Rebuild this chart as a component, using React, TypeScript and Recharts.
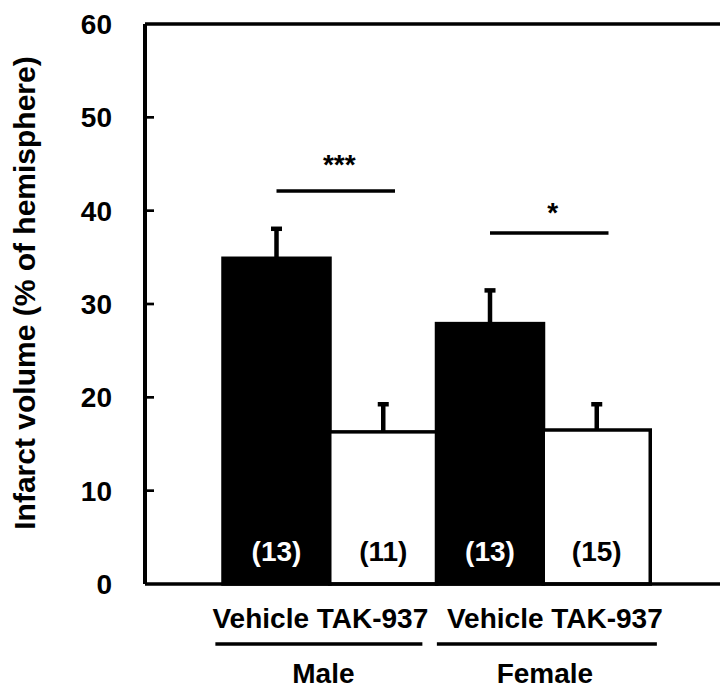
import React from 'react';
import { BarChart, Bar, XAxis, YAxis, ReferenceLine } from 'recharts';

// ---- data ----
const categories = ['Male Vehicle', 'Male TAK-937', 'Female Vehicle', 'Female TAK-937'];
const infarctVolume = [34.9, 16.3, 27.9, 16.5];
const semError = [3.4, 3.2, 3.8, 3.0];
const sampleSizes = ['(13)', '(11)', '(13)', '(15)'];
const isVehicle = [true, false, true, false];
const groupTickLabels = ['Vehicle TAK-937', '', 'Vehicle TAK-937', ''];
const groupNames = ['Male', '', 'Female', ''];
const sigLineLevel = [42.1, null, 37.6, null];
const sigStarLevel = [43.9, null, 38.8, null];
const sigStars = ['***', '', '*', ''];
const yTicks = [0, 10, 20, 30, 40, 50, 60];
const yMax = 60;
const yLabel = 'Infarct volume (% of hemisphere)';

const data = categories.map((c, i) => ({
  key: c,
  value: infarctVolume[i],
  err: semError[i],
  n: sampleSizes[i],
  vehicle: isVehicle[i],
  sigLine: sigLineLevel[i],
  sigStar: sigStarLevel[i],
  stars: sigStars[i],
}));

// ---- styles ----
const FONT = '"Liberation Sans", Arial, Helvetica, sans-serif';
const FS = 28;
const groupLayout: Record<number, { label: number; from: number; to: number; name: number }> = {
  0: { label: 44, from: -61, to: 146, name: 47 },
  2: { label: 65, from: -53, to: 167, name: 55 },
};

const BarShape = (props: any) => {
  const { x, y, width, height, payload } = props;
  const bottom = y + height;
  const pxPerUnit = height / payload.value;
  const toY = (v: number) => bottom - v * pxPerUnit;
  const cx = x + width / 2;
  const errTop = toY(payload.value + payload.err);
  const black = payload.vehicle;
  return (
    <g>
      <rect
        x={x}
        y={y}
        width={width}
        height={height}
        fill={black ? '#000' : '#fff'}
        stroke="#000"
        strokeWidth={3.5}
      />
      <line x1={cx} x2={cx} y1={y} y2={errTop + 2} stroke="#000" strokeWidth={4.5} />
      <rect x={cx - 5.5} y={errTop} width={11} height={4.5} fill="#000" />
      <text
        x={cx}
        y={bottom - 23}
        textAnchor="middle"
        fill={black ? '#fff' : '#000'}
        fontSize={FS}
        fontWeight="bold"
        fontFamily={FONT}
      >
        {payload.n}
      </text>
      {payload.sigLine != null && (
        <g>
          <line
            x1={cx}
            x2={cx + width + 11.5}
            y1={toY(payload.sigLine)}
            y2={toY(payload.sigLine)}
            stroke="#000"
            strokeWidth={3.5}
          />
          <text
            x={cx + (width + 11.5) / 2 + 3.5}
            y={toY(payload.sigStar)}
            textAnchor="middle"
            fontSize={FS}
            fontWeight="bold"
            fontFamily={FONT}
            fill="#000"
          >
            {payload.stars}
          </text>
        </g>
      )}
    </g>
  );
};

const XTick = (props: any) => {
  const { x, y, index } = props;
  const layout = groupLayout[index];
  if (!layout) return null;
  return (
    <g fontFamily={FONT} fontWeight="bold" fontSize={FS} fill="#000">
      <text x={x + layout.label} y={y + 44} textAnchor="middle">
        {groupTickLabels[index]}
      </text>
      <line x1={x + layout.from} x2={x + layout.to} y1={y + 60} y2={y + 60} stroke="#000" strokeWidth={3.5} />
      <text x={x + layout.name} y={y + 99} textAnchor="middle">
        {groupNames[index]}
      </text>
    </g>
  );
};

const YTick = (props: any) => {
  const { x, y, payload } = props;
  const v = payload.value;
  return (
    <g>
      {v !== 0 && v !== yMax && (
        <line x1={x} x2={x + 9} y1={y} y2={y} stroke="#000" strokeWidth={2.7} />
      )}
      <text
        x={x - 33}
        y={y}
        dy="0.36em"
        textAnchor="end"
        fontSize={FS}
        fontWeight="bold"
        fontFamily={FONT}
        fill="#000"
      >
        {v}
      </text>
    </g>
  );
};

const YLabel = (props: any) => {
  const { viewBox } = props;
  const lx = viewBox.x + 35;
  const ly = viewBox.y + viewBox.height / 2 - 11;
  return (
    <text
      x={lx}
      y={ly}
      transform={`rotate(-90, ${lx}, ${ly})`}
      textAnchor="middle"
      fontSize={30}
      fontWeight="bold"
      fontFamily={FONT}
      fill="#000"
    >
      {yLabel}
    </text>
  );
};

export default function App() {
  return (
    <div style={{ position: 'absolute', left: 0, top: 0, width: 720, height: 693, background: '#fff' }}>
      <BarChart
        width={720}
        height={693}
        data={data}
        margin={{ top: 24, right: 0, bottom: 0, left: 0 }}
        barCategoryGap={0}
        barGap={0}
      >
        <XAxis
          dataKey="key"
          height={109}
          padding={{ left: 78, right: 70 }}
          axisLine={{ stroke: '#000', strokeWidth: 3.5 }}
          tickLine={false}
          tickSize={0}
          tickMargin={0}
          tick={<XTick />}
          interval={0}
        />
        <YAxis
          domain={[0, yMax]}
          ticks={yTicks}
          width={145}
          interval={0}
          axisLine={{ stroke: '#000', strokeWidth: 4 }}
          tickLine={false}
          tickSize={0}
          tickMargin={0}
          tick={<YTick />}
          label={<YLabel />}
        />
        <ReferenceLine y={yMax} stroke="#000" strokeWidth={3.5} ifOverflow="visible" />
        <Bar dataKey="value" isAnimationActive={false} shape={<BarShape />} />
      </BarChart>
    </div>
  );
}
